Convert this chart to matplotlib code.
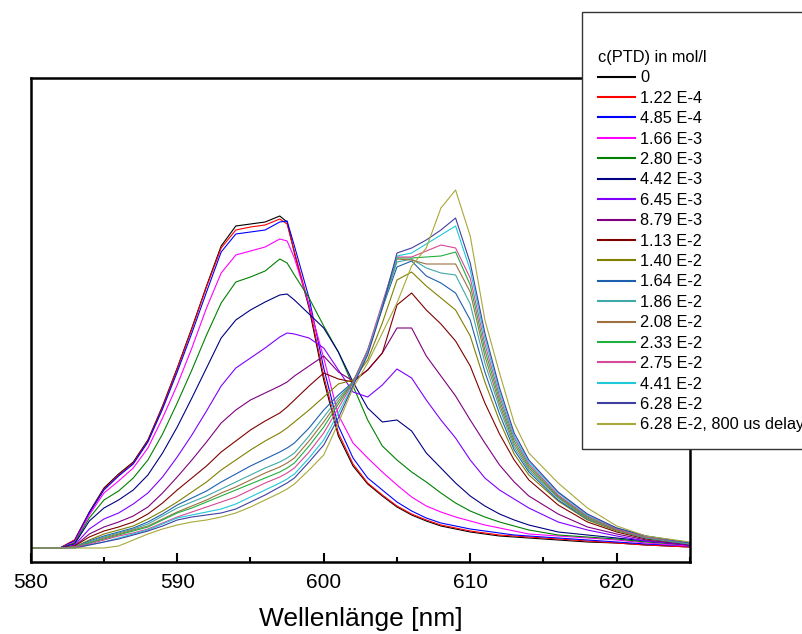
import matplotlib
matplotlib.use("Agg")
import matplotlib.pyplot as plt
from matplotlib.ticker import MultipleLocator

plt.rcParams['font.family'] = ['Liberation Sans', 'DejaVu Sans']

# Emission spectra of the dye at increasing PTD concentration (arbitrary intensity units)
wavelength = [580, 582, 583, 584, 585, 586, 587, 588, 589, 590,
              591, 592, 593, 594, 595, 596, 597, 597.5, 598, 599,
              600, 601, 602, 603, 604, 605, 606, 607, 608, 609,
              610, 611, 612, 613, 614, 616, 618, 620, 622, 625]

conc_labels = ["0", "1.22 E-4", "4.85 E-4", "1.66 E-3", "2.80 E-3", "4.42 E-3",
               "6.45 E-3", "8.79 E-3", "1.13 E-2", "1.40 E-2", "1.64 E-2", "1.86 E-2",
               "2.08 E-2", "2.33 E-2", "2.75 E-2", "4.41 E-2", "6.28 E-2",
               "6.28 E-2, 800 us delay"]

s_0 = [0, 0, 8, 36, 60, 74, 86, 108, 142, 180,
       220, 262, 302, 322, 324, 326, 332, 326, 295, 240,
       168, 112, 82, 64, 52, 41, 33, 27, 22, 19,
       16, 14, 12, 11, 10, 8, 6, 5, 3, 1]
s_1_22e4 = [0, 0, 8, 35, 59, 73, 85, 107, 141, 179,
            219, 261, 300, 318, 321, 323, 329, 324, 296, 243,
            172, 115, 84, 65, 53, 42, 34, 28, 23, 20,
            17, 15, 13, 12, 11, 9, 7, 5, 3, 1]
s_4_85e4 = [0, 0, 7, 35, 58, 72, 84, 106, 139, 176,
            215, 256, 296, 314, 316, 318, 326, 327, 302, 250,
            180, 122, 90, 70, 58, 46, 37, 30, 25, 22,
            19, 17, 15, 13, 12, 10, 8, 6, 4, 2]
s_1_66e3 = [0, 0, 6, 33, 55, 67, 80, 100, 130, 163,
            200, 240, 275, 293, 297, 301, 309, 307, 290, 243,
            190, 133, 105, 90, 76, 63, 51, 42, 36, 31,
            27, 23, 20, 17, 14, 12, 10, 8, 5, 2]
s_2_80e3 = [0, 0, 5, 30, 48, 57, 70, 88, 114, 145,
            178, 213, 245, 266, 271, 277, 289, 285, 273, 250,
            222, 196, 162, 128, 102, 88, 76, 66, 55, 45,
            37, 31, 26, 22, 18, 13, 11, 9, 6, 3]
s_4_42e3 = [0, 0, 4, 27, 40, 48, 58, 73, 95, 121,
            150, 180, 210, 228, 238, 246, 253, 254, 248, 234,
            220, 196, 166, 140, 126, 128, 117, 95, 80, 65,
            52, 42, 34, 28, 23, 16, 13, 10, 7, 3]
s_6_45e3 = [0, 0, 3, 19, 29, 35, 44, 55, 71, 91,
            113, 137, 162, 180, 190, 200, 211, 215, 214, 210,
            200, 178, 156, 151, 163, 179, 170, 148, 128, 110,
            88, 70, 58, 49, 40, 26, 18, 12, 7, 3]
s_8_79e3 = [0, 0, 2, 14, 21, 26, 32, 41, 55, 71,
            88, 106, 125, 138, 148, 155, 162, 166, 172, 182,
            192, 176, 167, 178, 195, 220, 220, 192, 172, 152,
            128, 105, 83, 66, 52, 34, 21, 14, 8, 3]
s_1_13e2 = [0, 0, 2, 11, 17, 21, 26, 34, 45, 58,
            70, 82, 96, 107, 118, 127, 135, 141, 148, 162,
            175, 169, 166, 178, 195, 243, 255, 238, 224, 207,
            182, 145, 114, 88, 68, 43, 26, 16, 9, 4]
s_1_40e2 = [0, 0, 1, 8, 14, 18, 22, 29, 37, 46,
            56, 66, 78, 88, 98, 107, 115, 120, 126, 138,
            151, 164, 168, 188, 225, 268, 276, 262, 250, 238,
            212, 166, 127, 94, 73, 47, 28, 17, 10, 4]
s_1_64e2 = [0, 0, 1, 7, 12, 16, 20, 26, 34, 43,
            50, 57, 66, 74, 82, 89, 96, 100, 105, 120,
            138, 153, 166, 198, 240, 281, 287, 272, 265, 255,
            228, 176, 134, 98, 76, 48, 29, 18, 10, 4]
s_1_86e2 = [0, 0, 1, 6, 11, 15, 19, 24, 32, 40,
            46, 52, 59, 66, 73, 80, 86, 90, 95, 112,
            131, 150, 166, 196, 240, 286, 289, 280, 275, 273,
            244, 185, 140, 101, 78, 50, 29, 18, 10, 4]
s_2_08e2 = [0, 0, 1, 5, 10, 14, 18, 22, 29, 36,
            42, 48, 55, 61, 68, 75, 81, 85, 90, 107,
            126, 147, 166, 196, 242, 289, 288, 284, 284, 284,
            256, 192, 144, 104, 80, 51, 30, 18, 11, 5]
s_2_33e2 = [0, 0, 1, 5, 9, 13, 17, 21, 28, 35,
            40, 46, 52, 58, 64, 70, 76, 80, 85, 102,
            121, 144, 166, 197, 243, 290, 290, 291, 292, 296,
            263, 198, 148, 107, 82, 52, 31, 19, 11, 5]
s_2_75e2 = [0, 0, 1, 4, 8, 12, 15, 19, 25, 31,
            36, 41, 46, 51, 58, 65, 71, 75, 80, 96,
            115, 140, 165, 198, 245, 291, 291, 297, 303, 300,
            270, 204, 152, 110, 84, 53, 32, 19, 11, 5]
s_4_41e2 = [0, 0, 0, 3, 6, 10, 14, 18, 24, 30,
            33, 36, 39, 44, 51, 58, 65, 69, 74, 90,
            108, 135, 163, 195, 242, 292, 295, 304, 313, 322,
            278, 210, 156, 112, 86, 55, 33, 20, 12, 5]
s_6_28e2 = [0, 0, 0, 3, 6, 9, 13, 17, 22, 28,
            31, 33, 35, 39, 46, 53, 61, 65, 70, 86,
            103, 130, 162, 193, 240, 295, 300, 308, 318, 330,
            285, 215, 160, 115, 88, 56, 34, 20, 12, 5]
s_6_28e2_delay = [0, 0, 0, 0, 0, 2, 8, 14, 19, 23,
                  26, 28, 31, 35, 41, 48, 55, 59, 64, 78,
                  93, 125, 160, 185, 215, 245, 282, 300, 340, 358,
                  312, 228, 175, 125, 95, 65, 40, 22, 12, 6]

spectra = [s_0, s_1_22e4, s_4_85e4, s_1_66e3, s_2_80e3, s_4_42e3, s_6_45e3,
           s_8_79e3, s_1_13e2, s_1_40e2, s_1_64e2, s_1_86e2, s_2_08e2,
           s_2_33e2, s_2_75e2, s_4_41e2, s_6_28e2, s_6_28e2_delay]

colors = ["#000000", "#FF0000", "#0000FF", "#FF00FF", "#008000", "#000080",
          "#8000FF", "#800080", "#800000", "#808000", "#1F5FB0", "#40A8A8",
          "#A07040", "#20B040", "#D84898", "#20C8D8", "#4040A0", "#A8A838"]

fig = plt.figure(figsize=(8.03, 6.34), dpi=100)
ax = fig.add_axes([30.7 / 803, (634 - 561.7) / 634, (690 - 30.7) / 803, (561.7 - 78) / 634])

for y, c, lab in zip(spectra, colors, conc_labels):
    ax.plot(wavelength, y, color=c, lw=0.8, label=lab)

ax.set_xlim(580, 625)
ax.set_ylim(-13.7, 470)
ax.xaxis.set_major_locator(MultipleLocator(10))
ax.xaxis.set_minor_locator(MultipleLocator(5))
ax.tick_params(axis='x', which='major', direction='in', length=6.5, width=1.5,
               labelsize=15, pad=8, top=False)
ax.tick_params(axis='x', which='minor', direction='in', length=3.6, width=1.5, top=False)
ax.set_yticks([])
for sp in ax.spines.values():
    sp.set_linewidth(1.8)
ax.set_xlabel("Wellenlänge [nm]", fontsize=19, labelpad=11)

leg = fig.legend(loc='upper left', bbox_to_anchor=(582 / 803, 1 - 12 / 634),
                 borderaxespad=0, title="\nc(PTD) in mol/l", fontsize=11.8,
                 title_fontsize=11.8, alignment='left', frameon=True, fancybox=False,
                 edgecolor='#333333', framealpha=1, borderpad=1.0, labelspacing=0.33,
                 handlelength=2.25, handletextpad=0.3)
leg.get_title().set_linespacing(1.55)
leg.get_frame().set_linewidth(1.0)
for line in leg.get_lines():
    line.set_linewidth(1.5)

fig.savefig("out.png", dpi=100)
